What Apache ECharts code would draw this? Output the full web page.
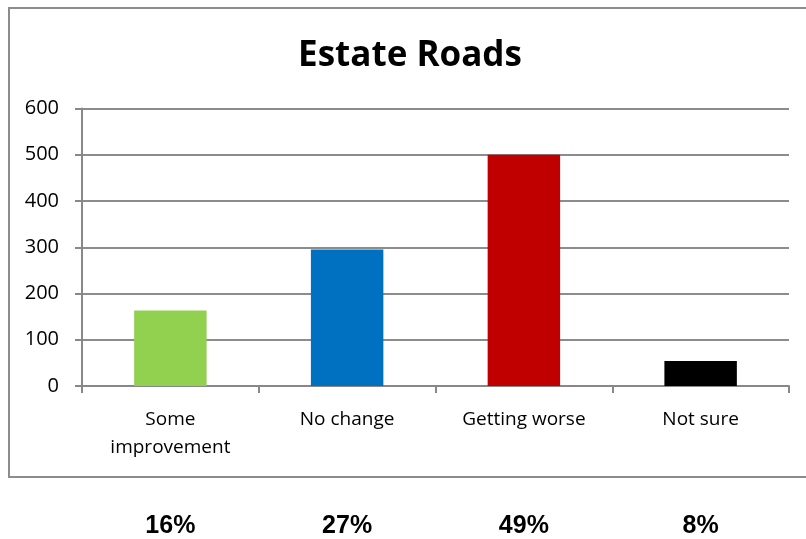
<!DOCTYPE html>
<html>
<head>
<meta charset="utf-8">
<style>
  html, body { margin: 0; padding: 0; background: #ffffff; }
  #chart { width: 806px; height: 539px; }
</style>
<script src="https://cdn.jsdelivr.net/npm/echarts@6/dist/echarts.min.js"></script>
</head>
<body>
<div id="chart"></div>
<script>
// Survey responses about estate roads
const chartTitle = 'Estate Roads';
const categories = ['Some\nimprovement', 'No change', 'Getting worse', 'Not sure'];
const responses = [163, 295, 500, 54];
const barColors = ['#92d050', '#0070c0', '#c00000', '#000000'];
const shareLabels = ['16%', '27%', '49%', '8%'];
const yTicks = { min: 0, max: 600, interval: 100 };

const chart = echarts.init(document.getElementById('chart'), null, { renderer: 'canvas' });

const gridLeft = 82, gridRight = 17, gridTop = 108.5, gridBottom = 152;

chart.setOption({
  animation: false,
  backgroundColor: '#ffffff',
  graphic: [{
    type: 'rect',
    shape: { x: 9, y: 8, width: 830, height: 469 },
    style: { fill: 'none', stroke: '#8c8c8c', lineWidth: 2 },
    silent: true,
    z: -1
  }, {
    // chart heading
    type: 'text',
    x: 410,
    y: 56,
    style: {
      text: chartTitle,
      fontFamily: 'Open Sans', fontWeight: 'bold', fontSize: 35,
      fill: '#000000', align: 'center', verticalAlign: 'middle'
    },
    silent: true
  }],
  grid: { left: gridLeft, right: gridRight, top: gridTop, bottom: gridBottom },
  xAxis: [{
    type: 'category',
    data: categories,
    position: 'bottom',
    axisLine: { show: true, lineStyle: { color: '#888888', width: 2 } },
    axisTick: { show: true, alignWithLabel: false, length: 7, lineStyle: { color: '#888888', width: 2 } },
    axisLabel: {
      fontFamily: 'Open Sans', fontSize: 19, color: '#000000',
      lineHeight: 28, margin: 20, interval: 0
    }
  }, {
    type: 'category',
    data: shareLabels,
    position: 'bottom',
    offset: 120,
    axisLine: { show: false },
    axisTick: { show: false },
    axisLabel: {
      fontFamily: 'Liberation Sans', fontWeight: 'bold', fontSize: 25,
      color: '#000000', margin: 8, interval: 0
    }
  }],
  yAxis: {
    type: 'value',
    min: yTicks.min, max: yTicks.max, interval: yTicks.interval,
    axisLine: { show: true, lineStyle: { color: '#888888', width: 2 } },
    axisTick: { show: true, length: 7, lineStyle: { color: '#888888', width: 2 } },
    axisLabel: { fontFamily: 'Open Sans', fontSize: 20, color: '#000000', margin: 23 },
    splitLine: { show: true, lineStyle: { color: '#8c8c8c', width: 2 } }
  },
  series: [{
    type: 'bar',
    xAxisIndex: 0,
    data: responses.map((v, i) => ({ value: v, itemStyle: { color: barColors[i] } })),
    barWidth: '41%'
  }]
});
</script>
</body>
</html>
